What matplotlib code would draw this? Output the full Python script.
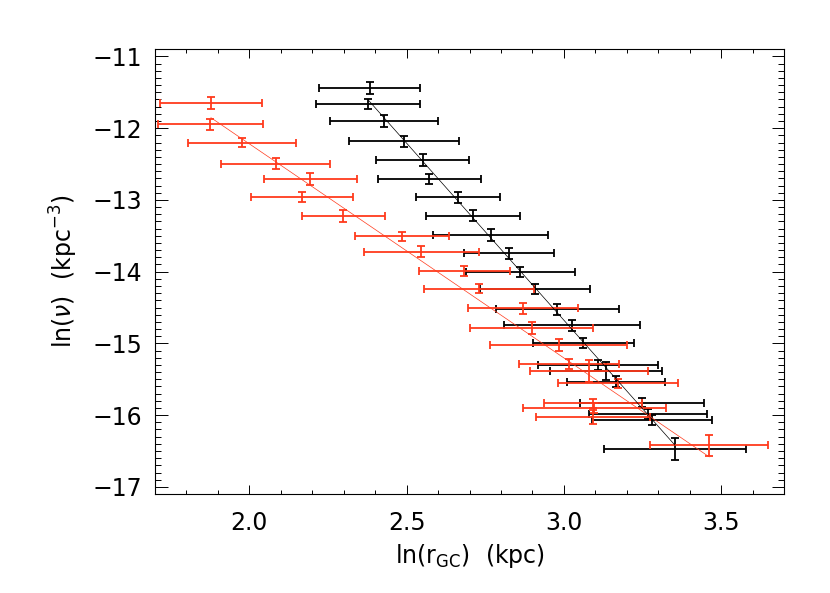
import numpy as np
import matplotlib
matplotlib.use("Agg")
import matplotlib.pyplot as plt
from matplotlib.ticker import MultipleLocator

plt.rcParams["font.family"] = ["DejaVu Sans"]
plt.rcParams["mathtext.fontset"] = "dejavusans"

# black sample
black_x = [2.383, 2.378, 2.429, 2.493, 2.551, 2.572, 2.664, 2.712, 2.767, 2.825, 2.862,
           2.908, 2.979, 3.025, 3.062, 3.109, 3.134, 3.166, 3.247, 3.268, 3.280, 3.353]
black_y = [-11.436, -11.663, -11.896, -12.183, -12.444, -12.713, -12.964, -13.221, -13.490,
           -13.745, -14.002, -14.247, -14.526, -14.749, -15.000, -15.303, -15.387, -15.533,
           -15.826, -15.986, -16.070, -16.470]
black_xerr = [0.160, 0.165, 0.172, 0.175, 0.148, 0.163, 0.134, 0.149, 0.183, 0.144, 0.174,
              0.175, 0.196, 0.217, 0.160, 0.191, 0.178, 0.155, 0.197, 0.188, 0.191, 0.226]
black_yerr = [0.081, 0.074, 0.084, 0.081, 0.079, 0.070, 0.075, 0.077, 0.079, 0.074, 0.070,
              0.070, 0.077, 0.077, 0.070, 0.066, 0.125, 0.081, 0.063, 0.070, 0.070, 0.151]

# red sample
red_x = [1.878, 1.876, 1.977, 2.084, 2.194, 2.167, 2.299, 2.485, 2.546, 2.683, 2.730,
         2.870, 2.897, 2.984, 3.016, 3.080, 3.171, 3.092, 3.097, 3.093, 3.462]
red_y = [-11.645, -11.946, -12.203, -12.496, -12.709, -12.964, -13.225, -13.504, -13.723,
         -13.992, -14.239, -14.512, -14.791, -15.024, -15.282, -15.383, -15.554, -15.833,
         -15.907, -16.028, -16.423]
red_xerr = [0.161, 0.167, 0.172, 0.174, 0.148, 0.163, 0.133, 0.149, 0.183, 0.145, 0.175,
            0.176, 0.195, 0.218, 0.160, 0.188, 0.191, 0.156, 0.226, 0.181, 0.187]
red_yerr = [0.084, 0.074, 0.063, 0.079, 0.081, 0.070, 0.081, 0.063, 0.079, 0.074, 0.065,
            0.079, 0.084, 0.086, 0.070, 0.153, 0.063, 0.063, 0.070, 0.093, 0.151]

# fitted lines (end points)
black_fit_x = [2.378, 3.353]
black_fit_y = [-11.607, -16.419]
red_fit_x = [1.878, 3.462]
red_fit_y = [-11.854, -16.582]

red = "#ff3a1c"

fig = plt.figure(figsize=(8.3, 5.93), dpi=100)
ax = fig.add_axes([0.1867, 0.1669, 0.758, 0.750])

ax.errorbar(black_x, black_y, xerr=black_xerr, yerr=black_yerr, fmt="none",
            ecolor="black", elinewidth=1.3, capsize=3, capthick=1.3)
ax.errorbar(red_x, red_y, xerr=red_xerr, yerr=red_yerr, fmt="none",
            ecolor=red, elinewidth=1.3, capsize=3, capthick=1.3)
ax.plot(black_fit_x, black_fit_y, color="black", lw=0.5)
ax.plot(red_fit_x, red_fit_y, color=red, lw=0.5)

ax.set_xlim(1.7, 3.7)
ax.set_ylim(-17.1, -10.9)
ax.xaxis.set_major_locator(MultipleLocator(0.5))
ax.xaxis.set_minor_locator(MultipleLocator(0.1))
ax.yaxis.set_major_locator(MultipleLocator(1))
ax.yaxis.set_minor_locator(MultipleLocator(0.1))
ax.xaxis.set_major_formatter(matplotlib.ticker.FormatStrFormatter("%.1f"))

ax.tick_params(axis="both", which="both", direction="in", top=True, right=True,
               labelsize=17, width=0.7)
ax.tick_params(axis="x", which="major", length=6.5, pad=12)
ax.tick_params(axis="x", which="minor", length=3.2)
ax.tick_params(axis="y", which="major", length=9, pad=9)
ax.tick_params(axis="y", which="minor", length=4.5)
for s in ax.spines.values():
    s.set_linewidth(0.8)

ax.set_xlabel(r"ln(r$_{\rm GC}$)  (kpc)", fontsize=17, labelpad=5)
ax.set_ylabel(r"ln($\nu$)  (kpc$^{-3}$)", fontsize=17, labelpad=9)

fig.savefig("out.png", dpi=100)
